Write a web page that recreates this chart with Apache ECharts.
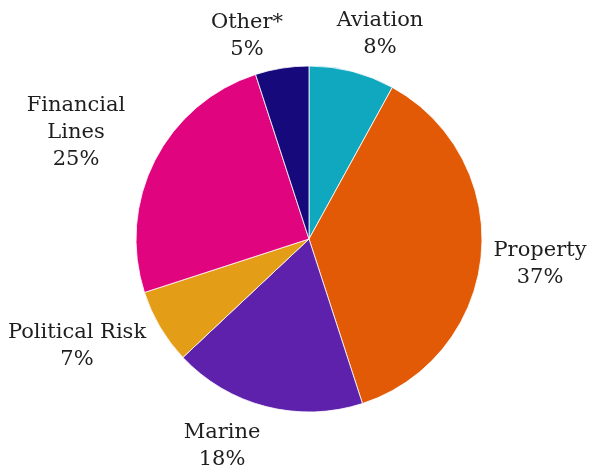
<!DOCTYPE html>
<html>
<head>
<meta charset="utf-8">
<script src="https://cdn.jsdelivr.net/npm/echarts@6/dist/echarts.min.js"></script>
<style>
  html, body { margin: 0; padding: 0; background: #ffffff; }
  #chart { width: 591px; height: 466px; }
</style>
</head>
<body>
<div id="chart"></div>
<script>
// Data
var categories = ['Aviation', 'Property', 'Marine', 'Political Risk', 'Financial Lines', 'Other*'];
var shares = [8, 37, 18, 7, 25, 5];

// Display text for labels (line-wrapped where the reference wraps)
var labelText = ['Aviation', 'Property', 'Marine', 'Political Risk', 'Financial\nLines', 'Other*'];

// Styling / layout
var colors = ['#10A8BF', '#E25A06', '#5E21AB', '#E49D16', '#E1047F', '#16097B'];
var labelCenters = [[380, 34], [540, 264], [222, 446], [77, 346], [76, 133], [247, 36]];

var chart = echarts.init(document.getElementById('chart'), null, { renderer: 'canvas' });

var data = categories.map(function (c, i) {
  return { name: c, value: shares[i], itemStyle: { color: colors[i] } };
});

chart.setOption({
  animation: false,
  backgroundColor: '#ffffff',
  series: [{
    type: 'pie',
    center: [309, 239],
    radius: [0, 173],
    startAngle: 90,
    clockwise: true,
    data: data,
    itemStyle: { borderColor: '#ffffff', borderWidth: 0.8 },
    label: {
      show: true,
      position: 'inside',
      overflow: 'none',
      formatter: function (p) { return labelText[p.dataIndex] + '\n' + p.value + '%'; },
      fontFamily: 'DejaVu Serif',
      fontSize: 21,
      lineHeight: 27,
      color: '#1e1e1e',
      align: 'center'
    },
    labelLine: { show: false },
    labelLayout: function (params) {
      var pos = labelCenters[params.dataIndex];
      return { x: pos[0], y: pos[1], align: 'center', verticalAlign: 'middle' };
    },
    emphasis: { disabled: true }
  }]
});
</script>
</body>
</html>
